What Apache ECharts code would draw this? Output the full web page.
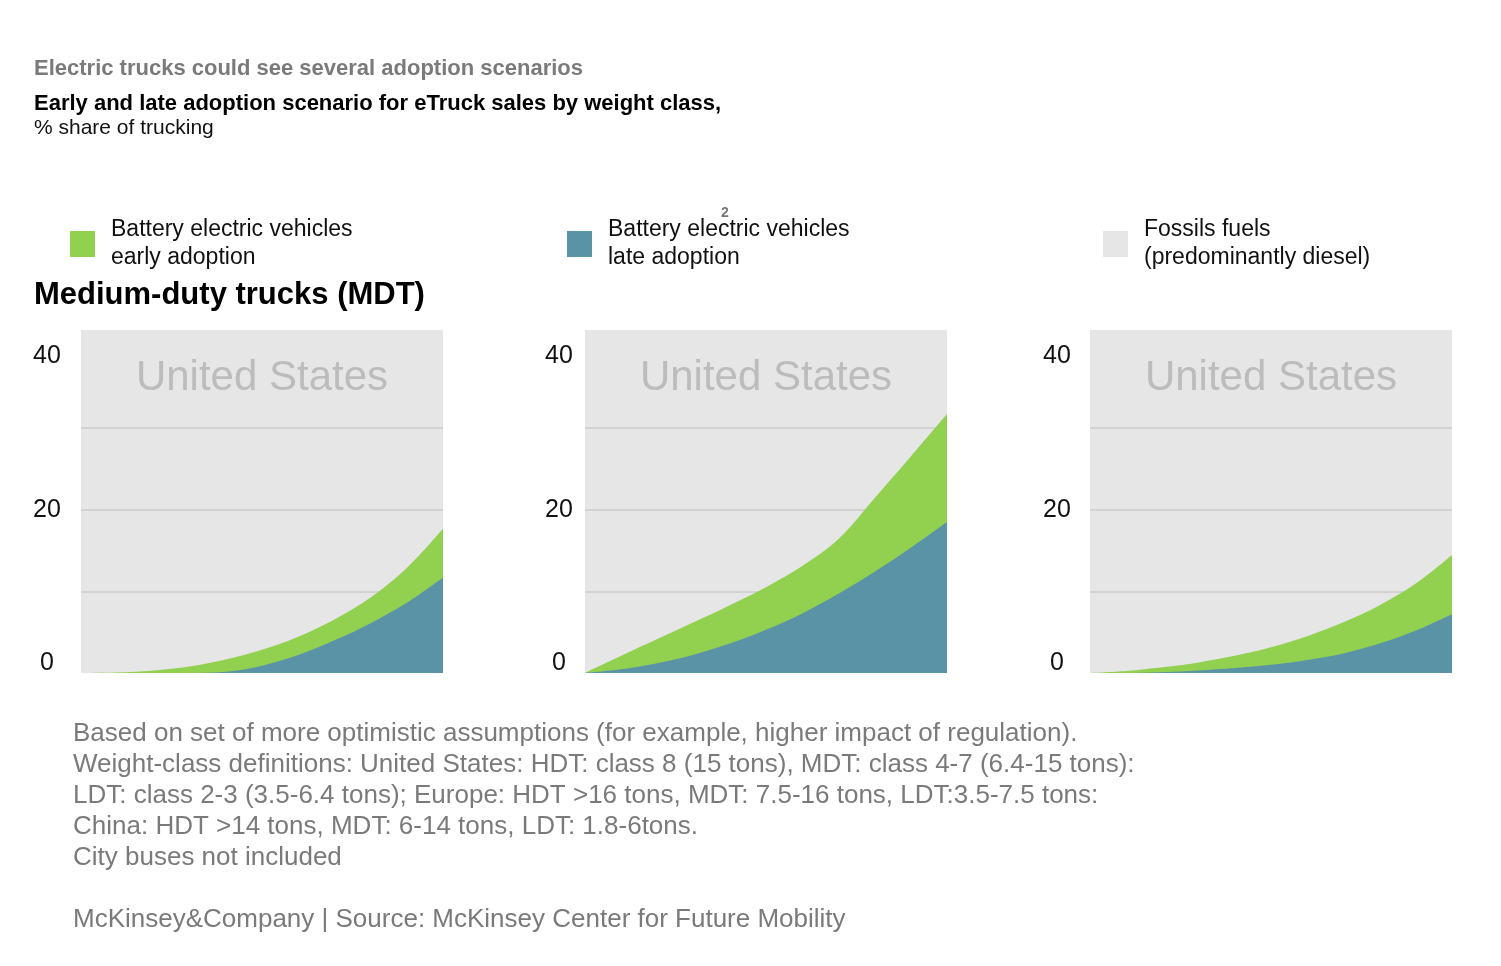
<!DOCTYPE html>
<html>
<head>
<meta charset="utf-8">
<script src="https://cdn.jsdelivr.net/npm/echarts@6/dist/echarts.min.js"></script>
<style>
html,body{margin:0;padding:0;background:#fff;}
#c{width:1501px;height:966px;}
</style>
</head>
<body>
<div id="c"></div>
<script>
// ---- data ----
var years = ['2020','2021','2022','2023','2024','2025','2026','2027','2028','2029','2030'];
var yTicks = [0, 20, 40];
var panelTitles = ['United States', 'United States', 'United States'];
// panel 1
var early1 = [0, 0.05, 0.3, 0.8, 1.65, 2.85, 4.45, 6.55, 9.25, 12.85, 17.65];
var late1  = [0, 0, 0, 0, 0.15, 0.9, 2.2, 4.0, 6.1, 8.6, 11.7];
// panel 2
var early2 = [0, 2.1, 4.15, 6.2, 8.3, 10.5, 13.1, 16.4, 21.4, 26.5, 31.7];
var late2  = [0, 0.45, 1.2, 2.25, 3.6, 5.3, 7.3, 9.7, 12.4, 15.35, 18.5];
// panel 3
var early3 = [0, 0.25, 0.7, 1.3, 2.1, 3.15, 4.5, 6.2, 8.3, 10.95, 14.45];
var late3  = [0, 0, 0.1, 0.3, 0.6, 1.0, 1.6, 2.4, 3.6, 5.2, 7.2];

var nameEarly = 'Battery electric vehicles\nearly adoption';
var nameLate = 'Battery electric vehicles\nlate adoption';
var nameFossil = 'Fossils fuels\n(predominantly diesel)';

var GREEN = '#92d050', BLUE = '#5b93a6', BG = '#e6e6e6', GRIDC = '#d2d2d2', NONE = 'rgba(0,0,0,0)';
var FONT = '"Liberation Sans", Arial, sans-serif';

var lefts = [81, 585, 1090];
var labelMargins = [34, 26, 33];
var earlies = [early1, early2, early3];
var lates = [late1, late2, late3];

var grids = [], xAxes = [], yAxes = [], series = [], panelTexts = [];
lefts.forEach(function (l, i) {
  grids.push({left: l, top: 330, width: 362, height: 343, show: true, backgroundColor: BG, borderWidth: 0});
  xAxes.push({type: 'category', gridIndex: i, data: years, boundaryGap: false, show: false});
  yAxes.push({
    type: 'value', gridIndex: i, min: 0, max: 42, interval: 10,
    axisLine: {show: false}, axisTick: {show: false},
    // split lines at 0,10,20,30,40,42 -> only 10,20,30 visible
    splitLine: {show: true, lineStyle: {width: 2, color: [NONE, GRIDC, GRIDC, GRIDC, NONE, NONE]}},
    axisLabel: {
      margin: labelMargins[i], align: 'center', fontSize: 25, color: '#111', fontFamily: FONT,
      showMaxLabel: false,
      formatter: function (v) {
        if (yTicks.indexOf(v) < 0) return '';
        if (v === 40) return '{t|' + v + '}';
        if (v === 0) return '{b|' + v + '}';
        return String(v);
      },
      rich: {
        t: {fontSize: 25, color: '#111', fontFamily: FONT, padding: [20, 0, 0, 0]},
        b: {fontSize: 25, color: '#111', fontFamily: FONT, padding: [0, 0, 20, 0]}
      }
    }
  });
  panelTexts.push({
    type: 'text', x: l + 181, y: 378, z: 5,
    style: {text: panelTitles[i], fontSize: 42, fill: '#bcbcbc', fontFamily: FONT, align: 'center', verticalAlign: 'middle'}
  });
  series.push({
    name: nameEarly, type: 'line', xAxisIndex: i, yAxisIndex: i, data: earlies[i],
    smooth: 0.35, symbol: 'none', z: 3, lineStyle: {width: 0}, color: GREEN,
    areaStyle: {color: GREEN, opacity: 1}
  });
  series.push({
    name: nameLate, type: 'line', xAxisIndex: i, yAxisIndex: i, data: lates[i],
    smooth: 0.35, symbol: 'none', z: 4, lineStyle: {width: 0}, color: BLUE,
    areaStyle: {color: BLUE, opacity: 1}
  });
});
series.push({name: nameFossil, type: 'line', xAxisIndex: 0, yAxisIndex: 0, data: [], color: BG});

function legendAt(left, name) {
  return {
    left: left, top: 209, data: [{name: name, icon: 'rect'}], selectedMode: false,
    itemWidth: 25, itemHeight: 26, orient: 'vertical',
    textStyle: {fontSize: 23, lineHeight: 28, color: '#111', fontFamily: FONT, padding: [4, 0, 0, 11]}
  };
}

var chart = echarts.init(document.getElementById('c'));
chart.setOption({
  animation: false,
  backgroundColor: '#fff',
  grid: grids, xAxis: xAxes, yAxis: yAxes, series: series,
  legend: [legendAt(65, nameEarly), legendAt(562, nameLate), legendAt(1098, nameFossil)],
  graphic: panelTexts.concat([
    {type: 'text', left: 34, top: 58, style: {text: 'Electric trucks could see several adoption scenarios', fontSize: 22, fontWeight: 'bold', fill: '#7a7a7a', fontFamily: FONT}},
    {type: 'text', left: 34, top: 93, style: {text: 'Early and late adoption scenario for eTruck sales by weight class,', fontSize: 22, fontWeight: 'bold', fill: '#000', fontFamily: FONT}},
    {type: 'text', left: 34, top: 118, style: {text: '% share of trucking', fontSize: 21, fill: '#111', fontFamily: FONT}},
    {type: 'text', left: 721, top: 206, style: {text: '2', fontSize: 14, fontWeight: 'bold', fill: '#777', fontFamily: FONT}},
    {type: 'text', left: 34, top: 280, style: {text: 'Medium-duty trucks (MDT)', fontSize: 31, fontWeight: 'bold', fill: '#000', fontFamily: FONT}},
    {type: 'text', left: 73, top: 718, style: {
      text: 'Based on set of more optimistic assumptions (for example, higher impact of regulation).\nWeight-class definitions: United States: HDT: class 8 (15 tons), MDT: class 4-7 (6.4-15 tons):\nLDT: class 2-3 (3.5-6.4 tons); Europe: HDT >16 tons, MDT: 7.5-16 tons, LDT:3.5-7.5 tons:\nChina: HDT >14 tons, MDT: 6-14 tons, LDT: 1.8-6tons.\nCity buses not included',
      fontSize: 26, lineHeight: 31, fill: '#7a7a7a', fontFamily: FONT}},
    {type: 'text', left: 73, top: 907, style: {text: 'McKinsey&Company | Source: McKinsey Center for Future Mobility', fontSize: 26, fill: '#7a7a7a', fontFamily: FONT}}
  ])
});
</script>
</body>
</html>
